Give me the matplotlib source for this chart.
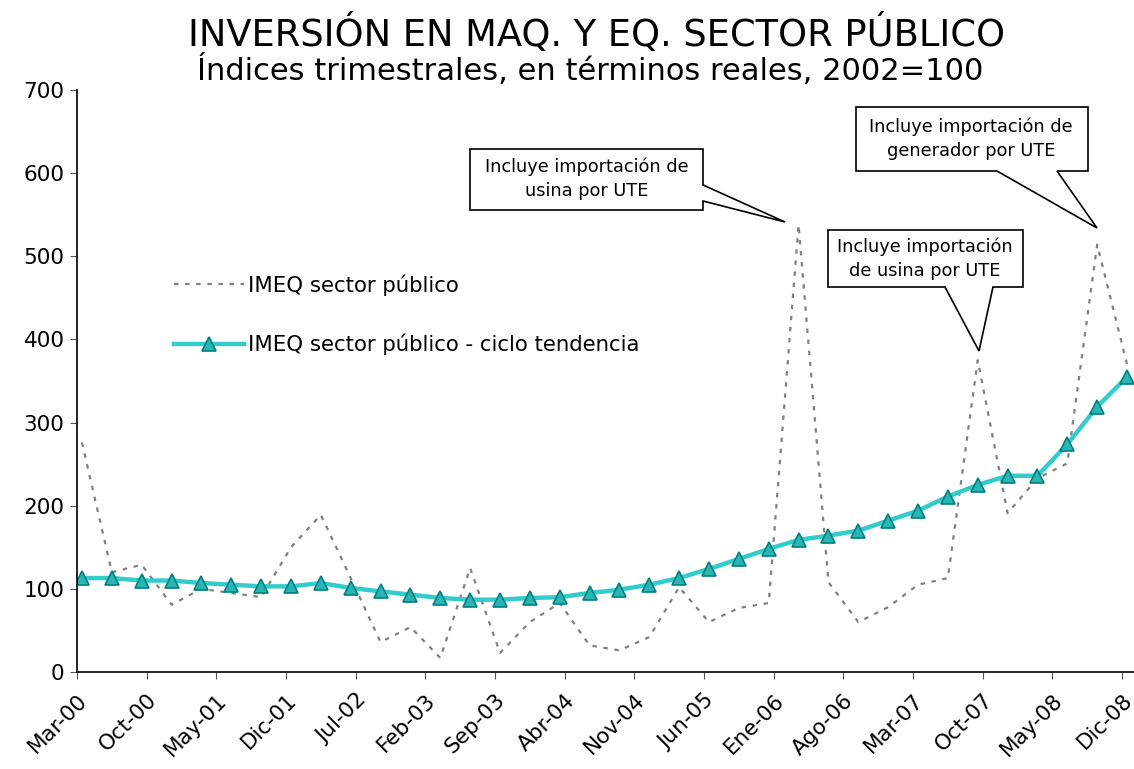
import matplotlib
matplotlib.use("Agg")
import matplotlib.pyplot as plt
from matplotlib.patches import Polygon
import numpy as np

plt.rcParams['font.family'] = ['DejaVu Sans']

# Quarterly indices Mar-00 .. Dic-08 (2002=100)
imeq = [276, 120, 129, 81, 100, 95, 90, 150, 189, 113,
        36, 54, 17, 125, 23, 60, 83, 32, 26, 42,
        102, 60, 77, 83, 538, 108, 60, 78, 105, 113,
        375, 191, 233, 251, 514, 370]
tendencia = [113, 113, 110, 110, 107, 105, 103, 103, 107, 101,
             97, 93, 89, 87, 87, 89, 90, 95, 99, 105,
             113, 124, 136, 148, 159, 164, 170, 182, 194, 211,
             225, 236, 236, 274, 319, 355]
tick_labels = ["Mar-00", "Oct-00", "May-01", "Dic-01", "Jul-02", "Feb-03",
               "Sep-03", "Abr-04", "Nov-04", "Jun-05", "Ene-06", "Ago-06",
               "Mar-07", "Oct-07", "May-08", "Dic-08"]
notas = ["Incluye importación de\nusina por UTE",
         "Incluye importación\nde usina por UTE",
         "Incluye importación de\ngenerador por UTE"]

W, H = 1134, 769
fig = plt.figure(figsize=(W / 100, H / 100), dpi=100)
ax = fig.add_axes([77 / W, 1 - 672 / H, 1 - 77 / W, (672 - 90) / H])

# months since Mar-00, points sit mid-month like the Excel date axis
x = np.arange(len(imeq)) * 3 + 0.5
ax.plot(x, imeq, color='#808080', lw=1.6, linestyle=(0, (2, 3)),
        label='IMEQ sector público')
ax.plot(x, tendencia, color='#33CCCC', lw=3.2, marker='^', markersize=10,
        markerfacecolor='#2AB5B5', markeredgecolor='#008080', markeredgewidth=1.2,
        label='IMEQ sector público - ciclo tendencia')

ax.set_xlim(0, 106.2)
ax.set_ylim(0, 700)
ax.set_yticks(range(0, 701, 100))
ax.set_xticks(np.arange(len(tick_labels)) * 7)
ax.set_xticklabels(tick_labels, rotation=45, ha='right', va='top',
                   rotation_mode='anchor')
ax.tick_params(axis='both', labelsize=15.5, length=5, direction='out',
               color='#555555', pad=4)
ax.tick_params(axis='x', pad=8)
for s in ['top', 'right']:
    ax.spines[s].set_visible(False)
for s in ['left', 'bottom']:
    ax.spines[s].set_linewidth(1.2)

leg = ax.legend(loc='upper left', bbox_to_anchor=(155 / W, 1 - 255 / H),
                bbox_transform=fig.transFigure, frameon=False, fontsize=15.3,
                handlelength=3.3, handletextpad=0.2, labelspacing=1.8)

# callout boxes (figure pixel coordinates)
def px(pts):
    return [(a / W, 1 - b / H) for a, b in pts]

callouts = [
    ([(470, 149), (703, 149), (703, 185), (785, 222), (703, 201),
      (703, 210), (470, 210)], (587, 179)),
    ([(828, 230), (1023, 230), (1023, 287), (993, 287), (979, 351),
      (945, 287), (828, 287)], (925, 259)),
    ([(856, 107), (1088, 107), (1088, 171), (1057, 171), (1097, 228),
      (997, 171), (856, 171)], (971, 139)),
]
for (shape, (tx, ty)), txt in zip(callouts, notas):
    fig.patches.append(Polygon(px(shape), closed=True, transform=fig.transFigure,
                               facecolor='white', edgecolor='black', lw=1.2,
                               zorder=5))
    fig.text(tx / W, 1 - ty / H, txt, ha='center', va='center', fontsize=12.8,
             linespacing=1.4, zorder=6)

fig.text(597 / W, 1 - 34 / H, "INVERSIÓN EN MAQ. Y EQ. SECTOR PÚBLICO",
         ha='center', va='center', fontsize=26.5)
fig.text(590 / W, 1 - 70 / H, "Índices trimestrales, en términos reales, 2002=100",
         ha='center', va='center', fontsize=22)

fig.savefig("out.png", dpi=100)
